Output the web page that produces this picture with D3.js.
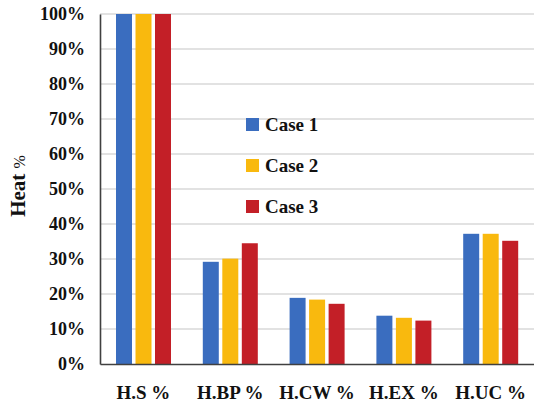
<!DOCTYPE html>
<html>
<head>
<meta charset="utf-8">
<script src="https://cdn.jsdelivr.net/npm/d3@7"></script>
<style>
  html, body { margin: 0; padding: 0; background: #fff; }
  svg { display: block; }
  svg text { font-family: "Liberation Serif", "DejaVu Serif", serif; font-weight: bold; fill: #111; }
</style>
</head>
<body>
<svg id="chart" width="534" height="405"></svg>
<script>
// Heat share per stream, three cases
const categories = ["H.S %", "H.BP %", "H.CW %", "H.EX %", "H.UC %"];
const seriesNames = ["Case 1", "Case 2", "Case 3"];
const case1 = [100, 29.2, 18.9, 13.8, 37.2];
const case2 = [100, 30.1, 18.4, 13.2, 37.2];
const case3 = [100, 34.5, 17.2, 12.4, 35.2];
const seriesColors = ["#3A6DBF", "#F9B90E", "#C31F27"];
const yTicks = [0, 10, 20, 30, 40, 50, 60, 70, 80, 90, 100];

const values = [case1, case2, case3];

const svg = d3.select("#chart");
const plotLeft = 100, plotRight = 534, plotTop = 14, plotBottom = 364;

const x0 = d3.scaleBand().domain(categories).range([plotLeft, plotRight]);
const x1 = d3.scaleBand().domain(seriesNames)
  .range([16, 71]).paddingInner(0.18);
const y = d3.scaleLinear().domain([0, 100]).range([plotBottom, plotTop]);

// horizontal gridlines
svg.append("g")
  .selectAll("line")
  .data(yTicks.filter(d => d > 0))
  .join("line")
  .attr("x1", plotLeft).attr("x2", plotRight)
  .attr("y1", d => y(d)).attr("y2", d => y(d))
  .attr("stroke", "#d9d9d9").attr("stroke-width", 1.6);

// bars
const groups = svg.append("g")
  .selectAll("g")
  .data(categories)
  .join("g")
  .attr("transform", d => `translate(${x0(d)},0)`);

groups.selectAll("rect")
  .data((c, i) => seriesNames.map((s, k) => ({ s, v: values[k][i], color: seriesColors[k] })))
  .join("rect")
  .attr("x", d => x1(d.s))
  .attr("width", x1.bandwidth())
  .attr("y", d => y(d.v))
  .attr("height", d => y(0) - y(d.v))
  .attr("fill", d => d.color);

// y axis
const yAxis = d3.axisLeft(y).tickValues(yTicks).tickSize(0).tickPadding(15)
  .tickFormat(d => d + "%");
const gy = svg.append("g").attr("transform", `translate(${plotLeft},0)`).call(yAxis)
  .attr("font-family", null).attr("font-size", null);
gy.select(".domain").attr("stroke", "#404040").attr("stroke-width", 1.6);
gy.selectAll("text").style("font-size", "18px");

// x axis
const xAxis = d3.axisBottom(x0).tickSize(0).tickPadding(22);
const gx = svg.append("g").attr("transform", `translate(0,${plotBottom})`).call(xAxis)
  .attr("font-family", null).attr("font-size", null);
gx.select(".domain").attr("stroke", "#404040").attr("stroke-width", 1.6);
gx.selectAll("text").style("font-size", "19px");

// y axis title
const title = svg.append("text")
  .attr("transform", `translate(25,186) rotate(-90)`)
  .attr("text-anchor", "middle");
title.append("tspan").style("font-size", "21px").text("Heat ");
title.append("tspan").style("font-size", "16px").style("font-weight", "normal").text("%");

// legend
const legend = svg.append("g")
  .selectAll("g")
  .data(seriesNames)
  .join("g")
  .attr("transform", (d, i) => `translate(246,${118 + i * 41})`);
legend.append("rect")
  .attr("width", 13).attr("height", 13)
  .attr("fill", (d, i) => seriesColors[i]);
legend.append("text")
  .attr("x", 19).attr("y", 6.5).attr("dy", "0.35em")
  .style("font-size", "19px")
  .text(d => d);
</script>
</body>
</html>
